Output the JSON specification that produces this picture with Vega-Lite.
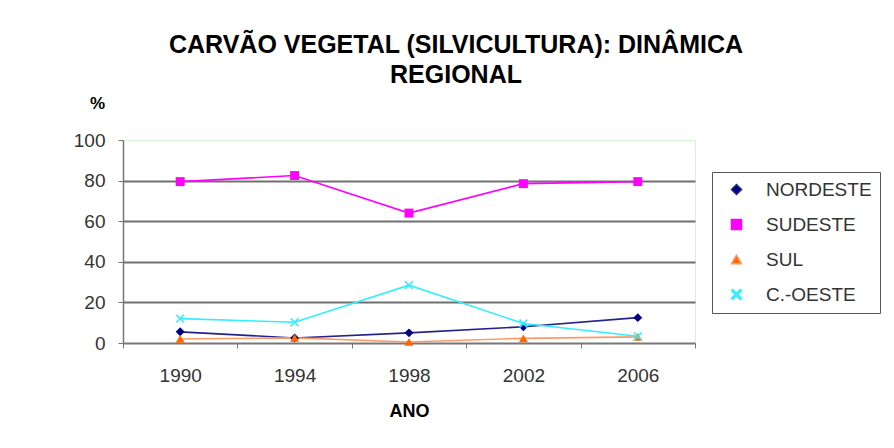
{
  "$schema": "https://vega.github.io/schema/vega-lite/v6.json",
  "width": 572,
  "height": 203,
  "autosize": {"type": "none"},
  "padding": {"left": 123, "top": 140, "right": 199, "bottom": 105},
  "background": "white",
  "title": {
    "text": ["CARVÃO VEGETAL (SILVICULTURA): DINÂMICA", "REGIONAL"],
    "anchor": "middle",
    "frame": "group",
    "dx": 47,
    "offset": 6,
    "font": "Liberation Sans",
    "fontSize": 25,
    "fontWeight": "bold",
    "color": "black",
    "lineHeight": 30
  },
  "data": {
    "values": [
      {"ano": "1990", "regiao": "NORDESTE", "valor": 5.5},
      {"ano": "1994", "regiao": "NORDESTE", "valor": 2.5},
      {"ano": "1998", "regiao": "NORDESTE", "valor": 5},
      {"ano": "2002", "regiao": "NORDESTE", "valor": 8},
      {"ano": "2006", "regiao": "NORDESTE", "valor": 12.5},
      {"ano": "1990", "regiao": "SUDESTE", "valor": 79.5},
      {"ano": "1994", "regiao": "SUDESTE", "valor": 82.5},
      {"ano": "1998", "regiao": "SUDESTE", "valor": 64},
      {"ano": "2002", "regiao": "SUDESTE", "valor": 78.5},
      {"ano": "2006", "regiao": "SUDESTE", "valor": 79.5},
      {"ano": "1990", "regiao": "SUL", "valor": 2},
      {"ano": "1994", "regiao": "SUL", "valor": 2.5},
      {"ano": "1998", "regiao": "SUL", "valor": 0.5},
      {"ano": "2002", "regiao": "SUL", "valor": 2.3},
      {"ano": "2006", "regiao": "SUL", "valor": 3},
      {"ano": "1990", "regiao": "C.-OESTE", "valor": 12},
      {"ano": "1994", "regiao": "C.-OESTE", "valor": 10.2},
      {"ano": "1998", "regiao": "C.-OESTE", "valor": 28.5},
      {"ano": "2002", "regiao": "C.-OESTE", "valor": 9.6},
      {"ano": "2006", "regiao": "C.-OESTE", "valor": 3.3}
    ]
  },
  "encoding": {
    "x": {
      "field": "ano",
      "type": "ordinal",
      "scale": {"type": "band", "paddingInner": 0, "paddingOuter": 0},
      "axis": {
        "title": "ANO",
        "labelAngle": 0,
        "tickBand": "extent",
        "domainColor": "#777777",
        "domainWidth": 2,
        "tickColor": "#777777",
        "tickSize": 5,
        "labelPadding": 18,
        "labelFont": "Liberation Sans",
        "labelFontSize": 19,
        "labelColor": "#333333",
        "titleFont": "Liberation Sans",
        "titleFontSize": 18,
        "titleFontWeight": "bold",
        "titleColor": "black",
        "titlePadding": 17
      }
    },
    "y": {
      "field": "valor",
      "type": "quantitative",
      "scale": {"domain": [0, 100], "nice": false},
      "axis": {
        "title": "%",
        "titleAngle": 0,
        "titleX": -26,
        "titleY": -37,
        "titleAlign": "center",
        "titleBaseline": "middle",
        "titleFont": "Liberation Sans",
        "titleFontSize": 17,
        "titleFontWeight": "bold",
        "titleColor": "black",
        "values": [0, 20, 40, 60, 80, 100],
        "grid": true,
        "gridColor": {"condition": {"test": "datum.value === 0 || datum.value === 100", "value": "transparent"}, "value": "#707070"},
        "gridWidth": 2,
        "domainColor": "#777777",
        "domainWidth": 1.5,
        "tickColor": "#777777",
        "tickSize": 5,
        "labelPadding": 13,
        "labelFont": "Liberation Sans",
        "labelFontSize": 19,
        "labelColor": "#333333"
      }
    }
  },
  "layer": [
    {
      "mark": {"type": "line", "strokeWidth": 1.6},
      "encoding": {
        "stroke": {
          "field": "regiao",
          "type": "nominal",
          "scale": {"domain": ["NORDESTE", "SUDESTE", "SUL", "C.-OESTE"], "range": ["#22228a", "#ff00ff", "#ff9966", "#33eeff"]},
          "legend": {"orient": "none", "legendX": 589, "legendY": 32, "title": null}
        }
      }
    },
    {
      "mark": {"type": "point", "filled": true, "size": 80, "opacity": 1},
      "encoding": {
        "fill": {
          "field": "regiao",
          "type": "nominal",
          "scale": {"domain": ["NORDESTE", "SUDESTE", "SUL", "C.-OESTE"], "range": ["#000080", "#ff00ff", "#ff6600", "#33eeff"]},
          "legend": {"orient": "none", "legendX": 589, "legendY": 32, "title": null}
        },
        "shape": {
          "field": "regiao",
          "type": "nominal",
          "scale": {"domain": ["NORDESTE", "SUDESTE", "SUL", "C.-OESTE"], "range": ["diamond", "square", "triangle-up", "M-1,-0.75L-0.75,-1L0,-0.25L0.75,-1L1,-0.75L0.25,0L1,0.75L0.75,1L0,0.25L-0.75,1L-1,0.75L-0.25,0Z"]},
          "legend": {"orient": "none", "legendX": 589, "legendY": 32, "title": null}
        }
      }
    }
  ],
  "config": {
    "view": {"stroke": "#d4f5d4", "strokeWidth": 1},
    "legend": {
      "strokeColor": "#555555",
      "fillColor": "white",
      "padding": 8,
      "rowPadding": 15,
      "labelFont": "Liberation Sans",
      "labelFontSize": 19,
      "labelColor": "#333333",
      "symbolSize": 100,
      "symbolOffset": 7,
      "labelOffset": 20
    }
  }
}
